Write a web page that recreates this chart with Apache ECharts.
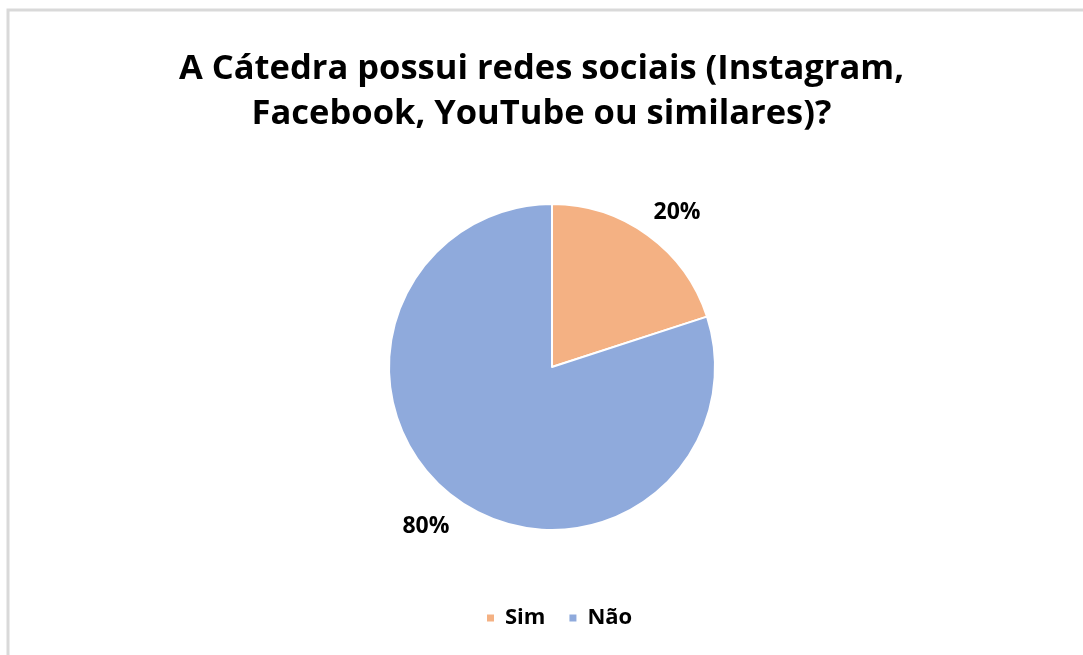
<!DOCTYPE html>
<html><head><meta charset="utf-8">
<script src="https://cdn.jsdelivr.net/npm/echarts@6/dist/echarts.min.js"></script>
<style>html,body{margin:0;padding:0;background:#fff;}#c{width:1083px;height:655px;}</style>
</head><body><div id="c"></div>
<script>
const titleText = 'A Cátedra possui redes sociais (Instagram,\nFacebook, YouTube ou similares)?';
const categories = ['Sim', 'Não'];
const values = [20, 80];
const colors = ['#F4B183', '#8FAADC'];

const chart = echarts.init(document.getElementById('c'), null, {renderer: 'canvas'});
const FONT = 'Open Sans';
const labelShift = [[-11, -6], [10, 11]];
chart.setOption({
  backgroundColor: '#fff',
  animation: false,
  graphic: [
    {type: 'polyline', shape: {points: [[8, 655], [8, 10], [1083, 10]]}, style: {stroke: '#d9d9d9', lineWidth: 3, fill: null}}
  ],
  title: {
    text: titleText,
    left: 'center',
    top: 42,
    textStyle: {fontFamily: FONT, fontWeight: 'bold', fontSize: 34.5, lineHeight: 45, color: '#000'}
  },
  legend: {
    data: categories,
    bottom: 21,
    left: 480,
    itemWidth: 9, itemHeight: 9, itemGap: 22,
    icon: 'rect',
    textStyle: {fontFamily: FONT, fontWeight: 'bold', fontSize: 22, color: '#000', padding: [0, 0, 0, 5]}
  },
  series: [{
    type: 'pie',
    center: [552, 367],
    radius: 163,
    startAngle: 90,
    clockwise: true,
    data: categories.map((c, i) => ({name: c, value: values[i], itemStyle: {color: colors[i]}})),
    itemStyle: {borderColor: '#fff', borderWidth: 2},
    label: {
      show: true,
      position: 'outside',
      formatter: p => p.percent.toFixed(0) + '%',
      fontFamily: FONT, fontWeight: 'bold', fontSize: 23, color: '#000'
    },
    labelLine: {show: false, length: 20, length2: 0},
    labelLayout: p => ({dx: labelShift[p.dataIndex][0], dy: labelShift[p.dataIndex][1]}),
    emphasis: {disabled: true}
  }]
});
</script></body></html>
